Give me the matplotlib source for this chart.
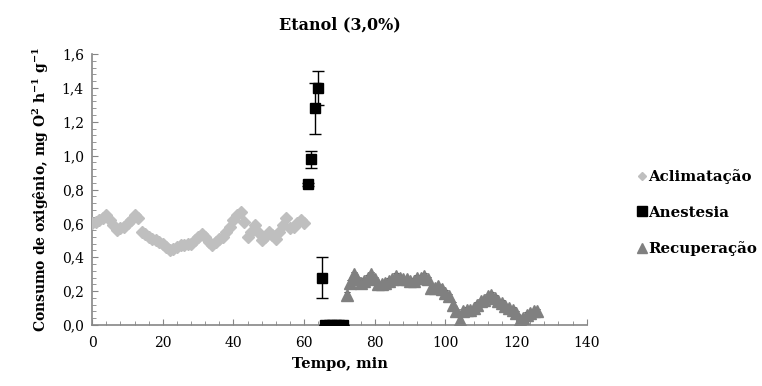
import matplotlib
matplotlib.use("Agg")
import matplotlib.pyplot as plt
from matplotlib.ticker import MultipleLocator, FuncFormatter
from matplotlib.lines import Line2D

plt.rcParams['font.family'] = ['DejaVu Serif']
plt.rcParams['mathtext.fontset'] = 'custom'
plt.rcParams['mathtext.rm'] = 'DejaVu Serif:bold'
plt.rcParams['mathtext.bf'] = 'DejaVu Serif:bold'
plt.rcParams['mathtext.default'] = 'rm'

# Aclimatação: minutes 0..60
acl_t = list(range(0, 61))
acl_v = [0.60, 0.61, 0.62, 0.63, 0.65, 0.62, 0.59, 0.56, 0.57, 0.58,
         0.60, 0.62, 0.65, 0.63, 0.55, 0.54, 0.52, 0.51, 0.50, 0.49,
         0.48, 0.46, 0.44, 0.45, 0.46, 0.47, 0.47, 0.48, 0.48, 0.50,
         0.52, 0.54, 0.52, 0.49, 0.47, 0.49, 0.51, 0.52, 0.55, 0.58,
         0.62, 0.65, 0.67, 0.61, 0.52, 0.55, 0.59, 0.55, 0.50, 0.52,
         0.55, 0.53, 0.51, 0.55, 0.59, 0.63, 0.57, 0.58, 0.60, 0.62,
         0.60]
acl_e = [0.015] * len(acl_v)

# Anestesia: minutes 61..71
ane_t = [61, 62, 63, 64, 65, 66, 67, 68, 69, 70, 71]
ane_v = [0.83, 0.98, 1.28, 1.40, 0.28, 0.0, 0.0, 0.0, 0.0, 0.0, 0.0]
ane_e = [0.01, 0.05, 0.15, 0.10, 0.12, 0.0, 0.0, 0.0, 0.0, 0.0, 0.0]

# Recuperação: minutes 72..126
rec_t = list(range(72, 127))
rec_v = [0.18, 0.25, 0.30, 0.27, 0.25, 0.26, 0.28, 0.30, 0.27, 0.24,
         0.24, 0.25, 0.26, 0.27, 0.29, 0.28, 0.27, 0.27, 0.26, 0.26,
         0.28, 0.28, 0.29, 0.27, 0.22, 0.22, 0.23, 0.21, 0.19, 0.17,
         0.12, 0.08, 0.03, 0.08, 0.09, 0.09, 0.10, 0.12, 0.14, 0.15,
         0.17, 0.18, 0.16, 0.14, 0.13, 0.11, 0.10, 0.09, 0.07, 0.03,
         0.04, 0.06, 0.07, 0.08, 0.08]
rec_e = [0.015] * len(rec_v)

names = ['Aclimatação', 'Anestesia', 'Recuperação']
colors = ['#BFBFBF', 'black', '#808080']
markers = ['D', 's', '^']
sizes = [6.5, 7.5, 8.5]
leg_sizes = [4.5, 7.5, 7.0]

fig = plt.figure(figsize=(7.62, 3.86), dpi=100)
ax = fig.add_axes([0.121, 0.158, 0.649, 0.702])

ax.errorbar(acl_t, acl_v, yerr=acl_e, fmt=markers[0], color=colors[0], ms=sizes[0],
            ecolor='black', elinewidth=0.6, capsize=2, capthick=0.6, zorder=3)
ax.errorbar(ane_t, ane_v, yerr=ane_e, fmt=markers[1], color=colors[1], ms=sizes[1],
            ecolor='black', elinewidth=1.0, capsize=4, capthick=1.0, zorder=4)
ax.errorbar(rec_t, rec_v, yerr=rec_e, fmt=markers[2], color=colors[2], ms=sizes[2],
            ecolor='black', elinewidth=0.6, capsize=2, capthick=0.6, zorder=3)

ax.set_xlim(0, 140)
ax.set_ylim(0, 1.6)
ax.xaxis.set_major_locator(MultipleLocator(20))
ax.xaxis.set_minor_locator(MultipleLocator(4))
ax.yaxis.set_major_locator(MultipleLocator(0.2))
ax.yaxis.set_minor_locator(MultipleLocator(0.04))
ax.yaxis.set_major_formatter(FuncFormatter(lambda v, p: f"{v:.1f}".replace('.', ',')))

for s in ['top', 'right']:
    ax.spines[s].set_visible(False)
for s in ['left', 'bottom']:
    ax.spines[s].set_color('#868686')
    ax.spines[s].set_linewidth(1.2)
ax.tick_params(which='both', direction='in', color='#868686', labelsize=10)
ax.tick_params(which='major', length=4)
ax.tick_params(which='minor', length=3)
ax.tick_params(axis='x', pad=8)
ax.tick_params(axis='y', pad=6)

ax.set_title('Etanol (3,0%)', fontsize=11.5, fontweight='bold', pad=18)
ax.set_xlabel('Tempo, min', fontsize=10.5, fontweight='bold', labelpad=5)
ax.set_ylabel(r'Consumo de oxigênio, mg O$^{2}$ h$^{-1}$ g$^{-1}$',
              fontsize=10, fontweight='bold', labelpad=8)

handles = [Line2D([], [], linestyle='none', marker=m, color=c, ms=s)
           for m, c, s in zip(markers, colors, leg_sizes)]
leg = ax.legend(handles, names, loc='center left', bbox_to_anchor=(1.09, 0.415),
                frameon=False, fontsize=10.8, labelspacing=1.45, handlelength=0.6,
                handletextpad=0.15, borderaxespad=0)
for t in leg.get_texts():
    t.set_fontweight('bold')

fig.savefig('out.png', dpi=100)
